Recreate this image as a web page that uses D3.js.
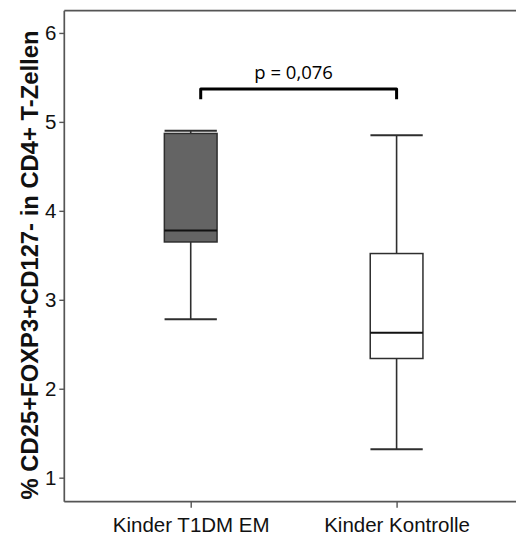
<!DOCTYPE html>
<html>
<head>
<meta charset="utf-8">
<script src="https://cdn.jsdelivr.net/npm/d3@7"></script>
<style>
  html, body { margin: 0; padding: 0; background: #fff; }
  svg { display: block; }
</style>
</head>
<body>
<svg id="chart" width="516" height="536"></svg>
<script>
// Groups and their box-plot summaries (% of CD4+ T cells)
const groups = ["Kinder T1DM EM", "Kinder Kontrolle"];
const whiskerLow  = [2.78, 1.32];
const quartile1   = [3.65, 2.34];
const medians     = [3.78, 2.63];
const quartile3   = [4.87, 3.52];
const whiskerHigh = [4.90, 4.85];
const boxFills    = ["#646464", "#ffffff"];

const yTicks = [1, 2, 3, 4, 5, 6];
const yLabel = "% CD25+FOXP3+CD127- in CD4+ T-Zellen";
const pLabel = "p = 0,076";
const bracketLevel = 5.37;
const bracketDrop = 0.115;

const svg = d3.select("#chart");
const plotLeft = 64.3, plotTop = 10.7, plotBottom = 501.7, plotRight = 523;

const x = d3.scalePoint().domain(groups).range([plotLeft, plotRight]).padding(0.614);
const y = d3.scaleLinear().domain([0.73, 6.25]).range([plotBottom, plotTop]);
const boxW = x.step() * 0.256;
const capW = x.step() * 0.127;

const fontAx = "Liberation Sans, Arial, sans-serif";

// Plot frame (top edge; left and bottom come from the axes)
svg.append("line")
  .attr("x1", plotLeft).attr("x2", plotRight)
  .attr("y1", plotTop).attr("y2", plotTop)
  .attr("stroke", "#555").attr("stroke-width", 1.7);

// Y axis
const yAxis = svg.append("g")
  .attr("transform", `translate(${plotLeft},0)`)
  .call(d3.axisLeft(y).tickValues(yTicks).tickSize(5).tickPadding(3).tickFormat(d3.format("d")));
yAxis.select(".domain").attr("d", `M0,${plotTop}V${plotBottom}`).attr("stroke", "#555").attr("stroke-width", 1.7);
yAxis.selectAll(".tick line").attr("stroke", "#555").attr("stroke-width", 1.4);
yAxis.selectAll(".tick text").attr("font-family", fontAx).attr("font-size", 20.5).attr("fill", "#111");

// X axis
const xAxis = svg.append("g")
  .attr("transform", `translate(0,${plotBottom})`)
  .call(d3.axisBottom(x).tickSize(6).tickPadding(10));
xAxis.select(".domain").attr("d", `M${plotLeft},0H${plotRight}`).attr("stroke", "#555").attr("stroke-width", 1.7);
xAxis.selectAll(".tick line").attr("stroke", "#555").attr("stroke-width", 1.4);
xAxis.selectAll(".tick text").attr("font-family", fontAx).attr("font-size", 20.5).attr("fill", "#111");

// Y axis title
svg.append("text")
  .attr("transform", `translate(37.5,265) rotate(-90)`)
  .attr("text-anchor", "middle")
  .attr("font-family", fontAx)
  .attr("font-weight", "bold")
  .attr("font-size", 23.8)
  .attr("fill", "#111")
  .text(yLabel);

// Box plots
const boxes = svg.append("g").selectAll("g")
  .data(groups.map((g, i) => ({
    g, lo: whiskerLow[i], q1: quartile1[i], med: medians[i],
    q3: quartile3[i], hi: whiskerHigh[i], fill: boxFills[i]
  })))
  .join("g")
  .attr("transform", d => `translate(${x(d.g)},0)`);

const stroke = "#2e2e2e";

// whisker stems
boxes.append("line")
  .attr("x1", 0).attr("x2", 0)
  .attr("y1", d => y(d.hi)).attr("y2", d => y(d.q3))
  .attr("stroke", stroke).attr("stroke-width", 1.6);
boxes.append("line")
  .attr("x1", 0).attr("x2", 0)
  .attr("y1", d => y(d.q1)).attr("y2", d => y(d.lo))
  .attr("stroke", stroke).attr("stroke-width", 1.6);
// whisker caps
boxes.append("line")
  .attr("x1", -capW).attr("x2", capW)
  .attr("y1", d => y(d.hi)).attr("y2", d => y(d.hi))
  .attr("stroke", stroke).attr("stroke-width", 2);
boxes.append("line")
  .attr("x1", -capW).attr("x2", capW)
  .attr("y1", d => y(d.lo)).attr("y2", d => y(d.lo))
  .attr("stroke", stroke).attr("stroke-width", 2);
// box
boxes.append("rect")
  .attr("x", -boxW / 2).attr("width", boxW)
  .attr("y", d => y(d.q3)).attr("height", d => y(d.q1) - y(d.q3))
  .attr("fill", d => d.fill)
  .attr("stroke", stroke).attr("stroke-width", 1.5);
// median
boxes.append("line")
  .attr("x1", -boxW / 2).attr("x2", boxW / 2)
  .attr("y1", d => y(d.med)).attr("y2", d => y(d.med))
  .attr("stroke", "#111").attr("stroke-width", 2);

// Significance bracket
const bx1 = x(groups[0]) + 10, bx2 = x(groups[1]);
svg.append("path")
  .attr("d", `M${bx1},${y(bracketLevel - bracketDrop)}V${y(bracketLevel)}H${bx2}V${y(bracketLevel - bracketDrop)}`)
  .attr("fill", "none")
  .attr("stroke", "#000")
  .attr("stroke-width", 3)
  .attr("stroke-linejoin", "round");

svg.append("text")
  .attr("x", (bx1 + bx2) / 2 - 5)
  .attr("y", y(bracketLevel) - 10)
  .attr("text-anchor", "middle")
  .attr("font-family", "Open Sans, sans-serif")
  .attr("font-size", 18.5)
  .attr("fill", "#000")
  .text(pLabel);
</script>
</body>
</html>
